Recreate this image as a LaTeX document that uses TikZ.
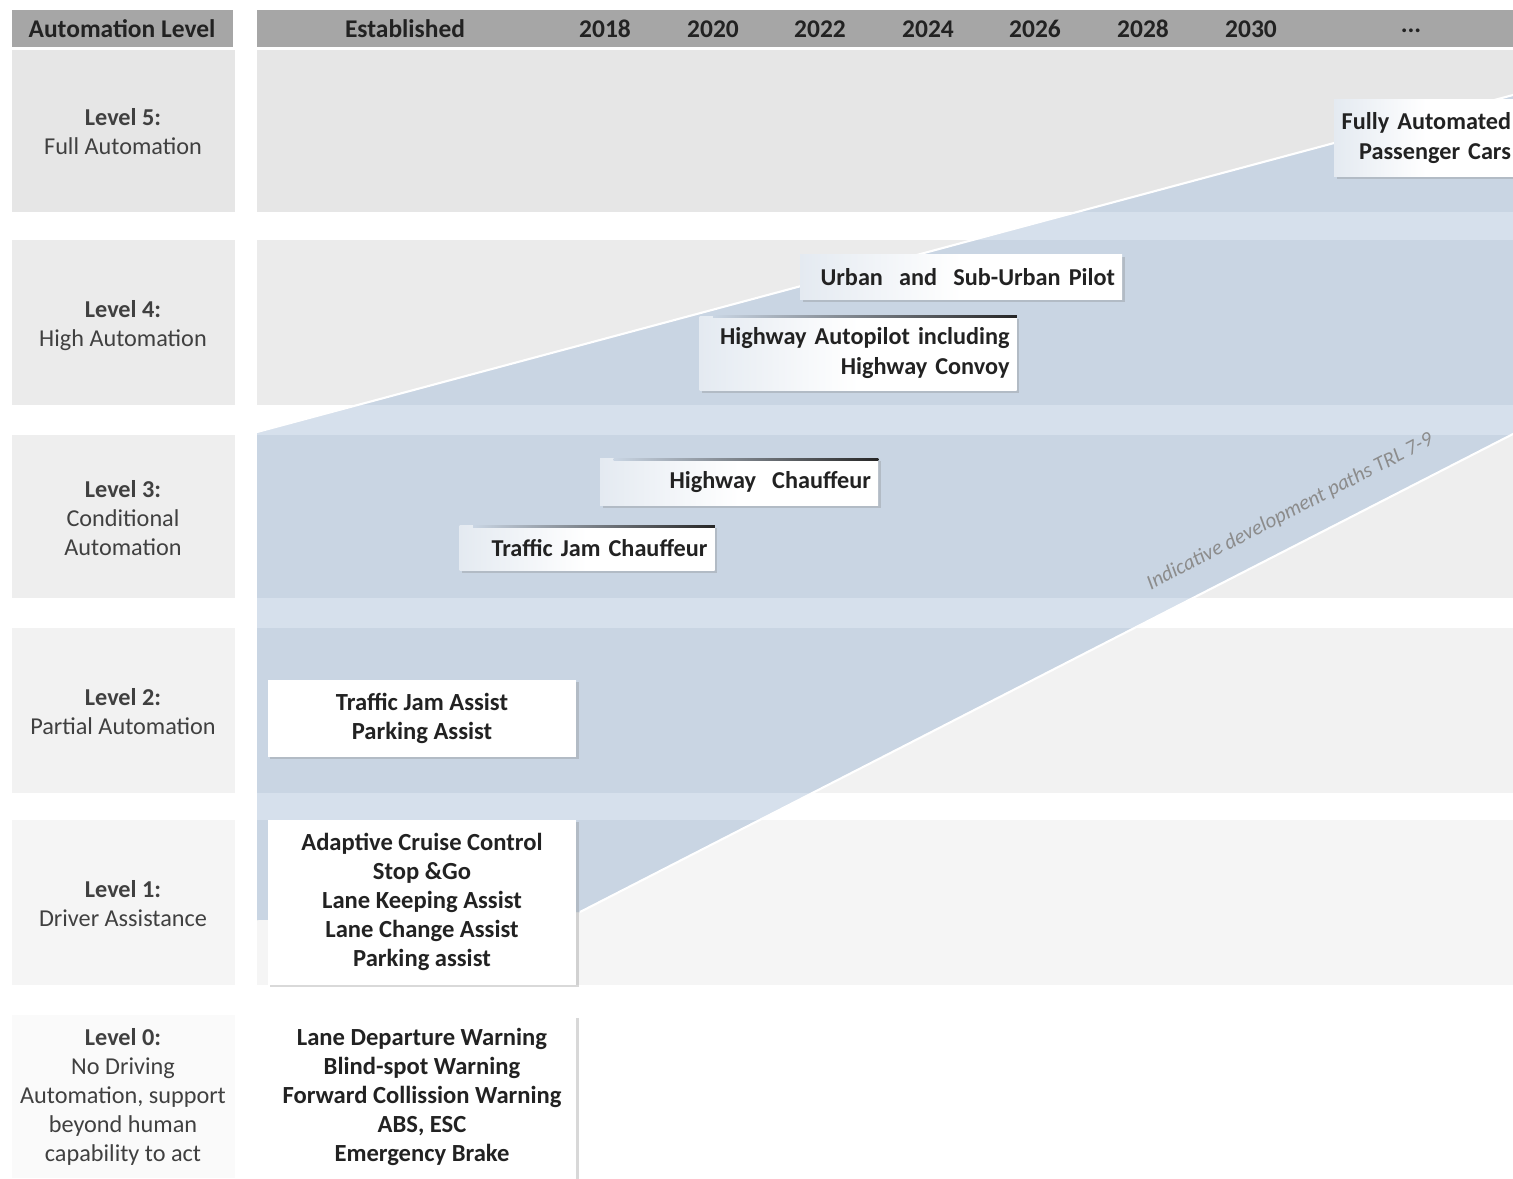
\documentclass[tikz,border=0pt]{standalone}
\usepackage{fontspec}
\setmainfont{Carlito}
\usetikzlibrary{shadows}

\definecolor{headgray}{HTML}{A6A6A6}
\definecolor{rowfive}{HTML}{E6E6E6}
\definecolor{rowfour}{HTML}{EBEBEB}
\definecolor{rowthree}{HTML}{EEEEEE}
\definecolor{rowtwo}{HTML}{F2F2F2}
\definecolor{rowone}{HTML}{F5F5F5}
\definecolor{rowzero}{HTML}{FAFAFA}
\definecolor{pathlight}{HTML}{D6E0EC}
\definecolor{pathdark}{HTML}{C9D5E3}
\definecolor{labeltext}{HTML}{222222}
\definecolor{softtext}{HTML}{404040}

\tikzset{
  head/.style={font=\fontsize{14.5}{16}\selectfont\bfseries, text=labeltext},
  lvl/.style={align=center, font=\fontsize{13.8}{16.5}\selectfont, text=softtext},
  boxshadow/.style={drop shadow={shadow xshift=1.5pt, shadow yshift=-1.5pt, opacity=.3}},
  featbox/.style={boxshadow, fill=white, align=center, minimum width=6.18cm,
    font=\fontsize{14}{16.5}\selectfont\bfseries, text=labeltext},
  fadebox/.style={boxshadow, left color=pathdark!50!white, right color=white, middle color=white,
    align=right, inner xsep=4pt, font=\fontsize{13.8}{17.5}\selectfont\bfseries, text=labeltext},
  topline/.style={left color=pathdark, right color=black!85},
  trl/.style={font=\fontsize{12}{14}\selectfont\itshape, text=black!45}
}

\begin{document}
\begin{tikzpicture}[x=0.02cm,y=-0.02cm]
\useasboundingbox (0,0) rectangle (1513,1178);

% header bar
\fill[headgray] (12,10) rectangle (233,47);
\fill[headgray] (257,10) rectangle (1513,47);

% level rows
\foreach \ya/\yb/\col in {50/212/rowfive, 240/405/rowfour, 435/598/rowthree,
                          628/793/rowtwo, 820/985/rowone, 1015/1178/rowzero} {
  \fill[\col] (12,\ya) rectangle (235,\yb);
  \fill[\col] (257,\ya) rectangle (1513,\yb);
}
\fill[white] (257,1015) rectangle (1513,1178);

% development path
\fill[pathlight] (257,432) -- (1513,95) -- (1513,434) -- (580,912) -- (257,920) -- cycle;
\begin{scope}
  \clip (257,432) -- (1513,95) -- (1513,434) -- (580,912) -- (257,920) -- cycle;
  \foreach \ya/\yb in {50/212, 240/405, 435/598, 628/793, 820/985}
    \fill[pathdark] (257,\ya) rectangle (1513,\yb);
\end{scope}
\draw[white, line width=1.2pt] (257,432) -- (1513,95);
\draw[white, line width=1.2pt] (1513,434) -- (580,912);
\node[trl, rotate=27.3] (trl) at (1290,512) {Indicative development paths TRL 7-9};

% header texts
\node[head] (hlevel) at (122,29) {Automation Level};
\node[head] (hest) at (405,29) {Established};
\foreach \yr/\xx in {2018/605, 2020/713, 2022/820, 2024/928, 2026/1035, 2028/1143, 2030/1251}
  \node[head] (y\yr) at (\xx,29) {\yr};
\node[head] (ymore) at (1411,31) {...};

% level labels
\node[lvl] (lfive)  at (123,132)  {\textbf{Level 5:}\\Full Automation};
\node[lvl] (lfour)  at (123,326)  {\textbf{Level 4:}\\High Automation};
\node[lvl] (lthree) at (123,518)  {\textbf{Level 3:}\\Conditional\\Automation};
\node[lvl] (ltwo)   at (123,712)  {\textbf{Level 2:}\\Partial Automation};
\node[lvl] (lone)   at (123,904)  {\textbf{Level 1:}\\Driver Assistance};
\node[lvl] (lzero)  at (123,1097) {\textbf{Level 0:}\\No Driving\\Automation, support\\beyond human\\capability to act};

% functions
\node[fadebox, text width=3.4cm, minimum height=1.54cm] (full) at (1426,138) {Fully Automated\\Passenger Cars};
\node[fadebox, text width=6.16cm, minimum height=0.9cm] (urban) at (961,277) {Urban~ and~ Sub-Urban Pilot};
\node[fadebox, text width=6.06cm, minimum height=1.48cm] (hwauto) at (858,353) {Highway Autopilot including\\Highway Convoy};
\node[fadebox, text width=5.28cm, minimum height=0.94cm] (hwchauf) at (739,482) {Highway~ Chauffeur};
\node[fadebox, text width=4.82cm, minimum height=0.9cm] (tjchauf) at (587,548) {Traffic Jam Chauffeur};

\shade[topline] ([xshift=8pt]hwauto.north west) rectangle ([yshift=-1.2pt]hwauto.north east);
\shade[topline] ([xshift=8pt]hwchauf.north west) rectangle ([yshift=-1.2pt]hwchauf.north east);
\shade[topline] ([xshift=8pt]tjchauf.north west) rectangle ([yshift=-1.2pt]tjchauf.north east);

\node[featbox, minimum height=1.54cm] (tjassist) at (422,718) {Traffic Jam Assist\\Parking Assist};
\node[featbox, minimum height=3.3cm] (assist) at (422,902) {Adaptive Cruise Control\\Stop \&Go\\Lane Keeping Assist\\Lane Change Assist\\Parking assist};
\node[featbox, minimum height=3.26cm] (warn) at (422,1097) {Lane Departure Warning\\Blind-spot Warning\\Forward Collission Warning\\ABS, ESC\\Emergency Brake};

\end{tikzpicture}
\end{document}
